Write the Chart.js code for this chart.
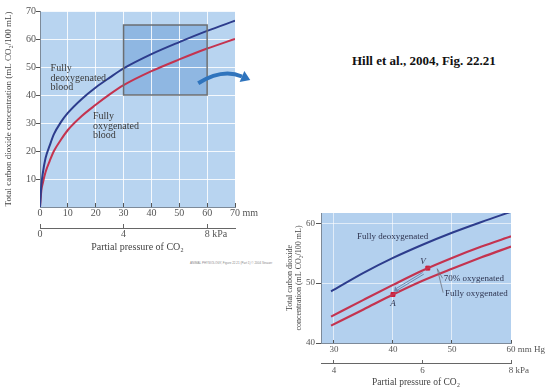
<!DOCTYPE html>
<html>
<head>
<meta charset="utf-8">
<script src="https://cdn.jsdelivr.net/npm/chart.js@4.4.1/dist/chart.umd.min.js"></script>
<style>
  body { margin: 0; background: #fff; width: 551px; height: 391px; overflow: hidden; position: relative; }
  canvas { position: absolute; }
  #full { left: 0; top: 0; }
  #zoom { left: 280px; top: 195px; }
  #ref { position: absolute; left: 352px; top: 53px; font: bold 13px "Liberation Serif", serif; color: #111; white-space: nowrap; }
  #credit { position: absolute; left: 190px; top: 261px; font: 3px "Liberation Sans", sans-serif; color: #888; white-space: nowrap; }
</style>
</head>
<body>
<canvas id="full" width="260" height="260"></canvas>
<canvas id="zoom" width="271" height="196"></canvas>
<div id="ref">Hill et al., 2004, Fig. 22.21</div>
<div id="credit">ANIMAL PHYSIOLOGY, Figure 22.21 (Part 1) &copy; 2004 Sinauer</div>
<script>
// left panel, whole range (mm Hg / mL CO2 per 100 mL)
var pco2Full = [0, 0.5, 1, 2, 3.5, 5, 7.5, 10, 15, 20, 25, 30, 40, 50, 60, 70];
var deoxyFull = [0, 8, 12, 17.5, 22, 26, 30.3, 33.6, 38.6, 42.7, 46.2, 49.5, 54.6, 58.9, 62.9, 66.5];
var oxyFull = [0, 6, 8.5, 12.5, 16.5, 20, 24, 27.5, 32.5, 36.5, 40.2, 43.5, 48.5, 52.7, 56.6, 60];
var mmTicksFull = [0, 10, 20, 30, 40, 50, 60, 70];
var kpaTicksFull = [0, 4, 8];
var yTicksFull = [10, 20, 30, 40, 50, 60, 70];

// right panel, enlarged part
var pco2Zoom = [29.5, 35, 40, 45, 50, 55, 60];
var deoxyZoom = [48.6, 51.7, 54.2, 56.4, 58.4, 60.2, 61.9];
var oxy70Zoom = [44.4, 47.2, 49.7, 52.1, 54.2, 56.1, 57.8];
var oxyZoom = [42.9, 45.6, 48.1, 50.4, 52.4, 54.3, 56.1];
var pointNames = ['V', 'A'];
var pointX = [45.9, 40];
var pointY = [52.5, 48.1];
var mmTicksZoom = [30, 40, 50, 60];
var kpaTicksZoom = [4, 6, 8];
var yTicksZoom = [40, 50, 60];

var MM_PER_KPA = 7.5;
var SERIF = '"Liberation Serif", "DejaVu Serif", serif';
var BLUE = '#2d3c8c';
var RED = '#c4334f';
var TICK = '#555';

Chart.defaults.font.family = SERIF;
Chart.defaults.animation = false;

function pts(xs, ys) {
    return xs.map(function(x, i) { return {x: x, y: ys[i]}; });
}
function fixTicks(vals) {
    return function(s) { s.ticks = vals.map(function(v) { return {value: v}; }); };
}

// unit text after the last tick label, e.g. "70 mm Hg"
function unitAfter(ctx, scale, value, unit, size, dy) {
    ctx.save();
    ctx.font = size + 'px ' + SERIF;
    ctx.fillStyle = TICK;
    ctx.textBaseline = 'middle';
    ctx.textAlign = 'left';
    var lbl = String(value);
    var x = scale.getPixelForValue(value) - ctx.measureText(lbl).width / 2 + ctx.measureText(lbl + ' ').width;
    ctx.fillText(unit, x, scale.top + dy);
    ctx.restore();
}

function lines(ctx, txts, x, y, step) {
    txts.forEach(function(t, i) { ctx.fillText(t, x, y + i * step); });
}

var fullPlugin = {
    id: 'fullDeco',
    beforeDraw: function(chart) {
        var ctx = chart.ctx, a = chart.chartArea, sx = chart.scales.x, sy = chart.scales.y;
        ctx.save();
        ctx.fillStyle = '#b8d4f0';
        ctx.fillRect(a.left, a.top, a.right - a.left, a.bottom - a.top);
        // enlarged region 30-60 mm Hg, 40-65 mL
        var x0 = sx.getPixelForValue(30), x1 = sx.getPixelForValue(60);
        var y0 = sy.getPixelForValue(65), y1 = sy.getPixelForValue(40);
        ctx.fillStyle = '#8fb7e2';
        ctx.fillRect(x0, y0, x1 - x0, y1 - y0);
        ctx.restore();
    },
    afterDraw: function(chart) {
        var ctx = chart.ctx, sx = chart.scales.x, sy = chart.scales.y;
        var x0 = sx.getPixelForValue(30), x1 = sx.getPixelForValue(60);
        var y0 = sy.getPixelForValue(65), y1 = sy.getPixelForValue(40);
        ctx.save();
        ctx.strokeStyle = '#6b6e72';
        ctx.lineWidth = 1.5;
        ctx.strokeRect(x0, y0, x1 - x0, y1 - y0);

        ctx.fillStyle = '#3a3a3a';
        ctx.font = '10px ' + SERIF;
        ctx.textBaseline = 'middle';
        lines(ctx, ['Fully', 'deoxygenated', 'blood'], sx.getPixelForValue(3.8), sy.getPixelForValue(49.5), 9.5);
        lines(ctx, ['Fully', 'oxygenated', 'blood'], sx.getPixelForValue(19), sy.getPixelForValue(32.2), 9.5);

        // curved arrow pointing to the enlarged panel
        var p0 = {x: sx.getPixelForValue(56.8), y: sy.getPixelForValue(44.2)};
        var pc = {x: sx.getPixelForValue(65.5), y: sy.getPixelForValue(49.6)};
        var p1 = {x: sx.getPixelForValue(72.5), y: sy.getPixelForValue(46.6)};
        ctx.strokeStyle = '#2f74bd';
        ctx.fillStyle = '#2f74bd';
        ctx.lineWidth = 4;
        ctx.beginPath();
        ctx.moveTo(p0.x, p0.y);
        ctx.quadraticCurveTo(pc.x, pc.y, p1.x, p1.y);
        ctx.stroke();
        var dx = p1.x - pc.x, dy = p1.y - pc.y, len = Math.sqrt(dx * dx + dy * dy);
        dx /= len; dy /= len;
        ctx.beginPath();
        ctx.moveTo(p1.x + dx * 9, p1.y + dy * 9);
        ctx.lineTo(p1.x - dy * 6, p1.y + dx * 6);
        ctx.lineTo(p1.x + dy * 6, p1.y - dx * 6);
        ctx.closePath();
        ctx.fill();
        ctx.restore();

        unitAfter(ctx, sx, 70, 'mm Hg', 10, 6);
        unitAfter(ctx, chart.scales.x2, 8, 'kPa', 10, 6);
    }
};

new Chart(document.getElementById('full'), {
    type: 'line',
    data: {
        datasets: [
            {label: 'Fully deoxygenated blood', data: pts(pco2Full, deoxyFull), borderColor: BLUE, borderWidth: 2, pointRadius: 0, cubicInterpolationMode: 'monotone'},
            {label: 'Fully oxygenated blood', data: pts(pco2Full, oxyFull), borderColor: RED, borderWidth: 2, pointRadius: 0, cubicInterpolationMode: 'monotone'}
        ]
    },
    options: {
        responsive: false,
        devicePixelRatio: 1,
        layout: {padding: {left: 0, top: 11, right: 25, bottom: 0}},
        plugins: {legend: {display: false}, tooltip: {enabled: false}},
        scales: {
            x: {
                type: 'linear', position: 'bottom', weight: 0, min: 0, max: 70,
                afterBuildTicks: fixTicks(mmTicksFull),
                afterFit: function(s) { s.height = 21; },
                grid: {color: 'rgba(255,255,255,0.85)', tickColor: TICK, tickLength: -4},
                border: {color: '#7d8a99'},
                ticks: {font: {size: 10}, color: TICK, padding: 4, maxRotation: 0, autoSkip: false}
            },
            x2: {
                type: 'linear', position: 'bottom', weight: 1, min: 0, max: 70 / MM_PER_KPA,
                afterBuildTicks: fixTicks(kpaTicksFull),
                afterFit: function(s) { s.height = 32; },
                grid: {drawOnChartArea: false, tickColor: '#666', tickLength: -4},
                border: {color: '#666'},
                ticks: {font: {size: 10}, color: TICK, padding: 4, maxRotation: 0, autoSkip: false},
                title: {display: true, text: 'Partial pressure of CO\u2082', font: {size: 10}, color: '#444', padding: {top: 0, bottom: 7}}
            },
            y: {
                min: 0, max: 70,
                afterBuildTicks: fixTicks(yTicksFull),
                afterFit: function(s) { s.width = 40; },
                grid: {color: 'rgba(255,255,255,0.85)', tickColor: TICK, tickLength: 4},
                border: {color: '#7d8a99'},
                ticks: {font: {size: 10}, color: TICK, padding: 0},
                title: {display: true, text: 'Total carbon dioxide concentration (mL CO\u2082/100 mL)', font: {size: 9}, color: '#444', padding: {top: 3, bottom: 0}}
            }
        }
    },
    plugins: [fullPlugin]
});

var zoomPlugin = {
    id: 'zoomDeco',
    beforeDraw: function(chart) {
        var ctx = chart.ctx, a = chart.chartArea;
        ctx.save();
        ctx.fillStyle = '#b3d0ee';
        ctx.fillRect(a.left, a.top, a.right - a.left, a.bottom - a.top);
        ctx.restore();
    },
    afterDraw: function(chart) {
        var ctx = chart.ctx, sx = chart.scales.x, sy = chart.scales.y;
        function P(x, y) { return {x: sx.getPixelForValue(x), y: sy.getPixelForValue(y)}; }
        ctx.save();
        ctx.fillStyle = '#2e3450';
        ctx.font = '9px ' + SERIF;
        ctx.textBaseline = 'middle';
        var t = P(33.9, 57.7);
        ctx.fillText('Fully deoxygenated', t.x, t.y);
        t = P(48.6, 50.8);
        ctx.fillText('70% oxygenated', t.x, t.y);
        t = P(48.8, 48.3);
        ctx.fillText('Fully oxygenated', t.x, t.y);

        // leader lines to the curves
        var s = P(47.5, 52.4);
        ctx.strokeStyle = '#6d7480';
        ctx.lineWidth = 0.8;
        ctx.beginPath();
        ctx.moveTo(s.x, s.y);
        t = P(48.4, 50.8);
        ctx.lineTo(t.x, t.y);
        ctx.moveTo(s.x, s.y);
        t = P(48.5, 48.4);
        ctx.lineTo(t.x, t.y);
        ctx.stroke();

        // V -> A arrow
        var v = P(pointX[0], pointY[0]), ap = P(pointX[1], pointY[1]);
        var dx = ap.x - v.x, dy = ap.y - v.y, len = Math.sqrt(dx * dx + dy * dy);
        dx /= len; dy /= len;
        var b = {x: v.x + dx * 5, y: v.y + dy * 5 + 3}, e = {x: ap.x - dx * 6, y: ap.y - dy * 6 - 1};
        ctx.strokeStyle = '#6f88ad';
        ctx.lineWidth = 1;
        ctx.beginPath();
        ctx.moveTo(b.x, b.y); ctx.lineTo(e.x, e.y);
        ctx.moveTo(b.x - dy * 2, b.y + dx * 2); ctx.lineTo(e.x - dy * 2, e.y + dx * 2);
        ctx.stroke();
        ctx.fillStyle = '#6f88ad';
        ctx.beginPath();
        ctx.moveTo(e.x + dx * 4 - dy, e.y + dy * 4 + dx);
        ctx.lineTo(e.x - dy * 4.5, e.y + dx * 4.5);
        ctx.lineTo(e.x + dy * 2.5, e.y - dx * 2.5);
        ctx.closePath();
        ctx.fill();

        ctx.fillStyle = '#2e3450';
        ctx.font = 'italic 9px ' + SERIF;
        ctx.textAlign = 'center';
        t = P(45.1, 53.5);
        ctx.fillText(pointNames[0], t.x, t.y);
        t = P(40, 46.6);
        ctx.fillText(pointNames[1], t.x, t.y);
        ctx.restore();

        unitAfter(ctx, sx, 60, 'mm Hg', 9, 6.4);
        unitAfter(ctx, chart.scales.x2, 8, 'kPa', 9, 7.4);
    }
};

new Chart(document.getElementById('zoom'), {
    type: 'line',
    data: {
        datasets: [
            {label: 'Fully deoxygenated', data: pts(pco2Zoom, deoxyZoom), borderColor: BLUE, borderWidth: 2, pointRadius: 0, cubicInterpolationMode: 'monotone'},
            {label: '70% oxygenated', data: pts(pco2Zoom, oxy70Zoom), borderColor: RED, borderWidth: 2.2, pointRadius: 0, cubicInterpolationMode: 'monotone'},
            {label: 'Fully oxygenated', data: pts(pco2Zoom, oxyZoom), borderColor: RED, borderWidth: 2.2, pointRadius: 0, cubicInterpolationMode: 'monotone'},
            {label: 'V / A', data: pts(pointX, pointY), showLine: false, pointRadius: 2.8, pointStyle: 'rect', backgroundColor: '#d11a36', borderColor: '#d11a36'}
        ]
    },
    options: {
        responsive: false,
        devicePixelRatio: 1,
        layout: {padding: {left: 0, top: 18, right: 40, bottom: 0}},
        plugins: {legend: {display: false}, tooltip: {enabled: false}},
        scales: {
            x: {
                type: 'linear', position: 'bottom', weight: 0, min: 27.8, max: 60,
                afterBuildTicks: fixTicks(mmTicksZoom),
                afterFit: function(s) { s.height = 20; },
                grid: {color: 'rgba(255,255,255,0.6)', tickColor: TICK, tickLength: -3},
                border: {color: '#7d8a99'},
                ticks: {font: {size: 9}, color: TICK, padding: 4, maxRotation: 0, autoSkip: false}
            },
            x2: {
                type: 'linear', position: 'bottom', weight: 1, min: 27.8 / MM_PER_KPA, max: 60 / MM_PER_KPA,
                afterBuildTicks: fixTicks(kpaTicksZoom),
                afterFit: function(s) { s.height = 28; },
                grid: {drawOnChartArea: false, tickColor: '#666', tickLength: -3},
                border: {color: '#666'},
                ticks: {font: {size: 9}, color: TICK, padding: 5, maxRotation: 0, autoSkip: false},
                title: {display: true, text: 'Partial pressure of CO\u2082', font: {size: 9.5}, color: '#444', padding: {top: 0, bottom: 3}}
            },
            y: {
                min: 40, max: 61.7,
                afterBuildTicks: fixTicks(yTicksZoom),
                afterFit: function(s) { s.width = 41; },
                grid: {color: 'rgba(255,255,255,0.6)', tickColor: TICK, tickLength: 5},
                border: {color: '#7d8a99'},
                ticks: {font: {size: 9}, color: TICK, padding: 1},
                title: {display: true, text: ['Total carbon dioxide', 'concentration (mL CO\u2082/100 mL)'], font: {size: 8, lineHeight: 1.1}, color: '#444', padding: {top: 5.6, bottom: 0}}
            }
        }
    },
    plugins: [zoomPlugin]
});
</script>
</body>
</html>
